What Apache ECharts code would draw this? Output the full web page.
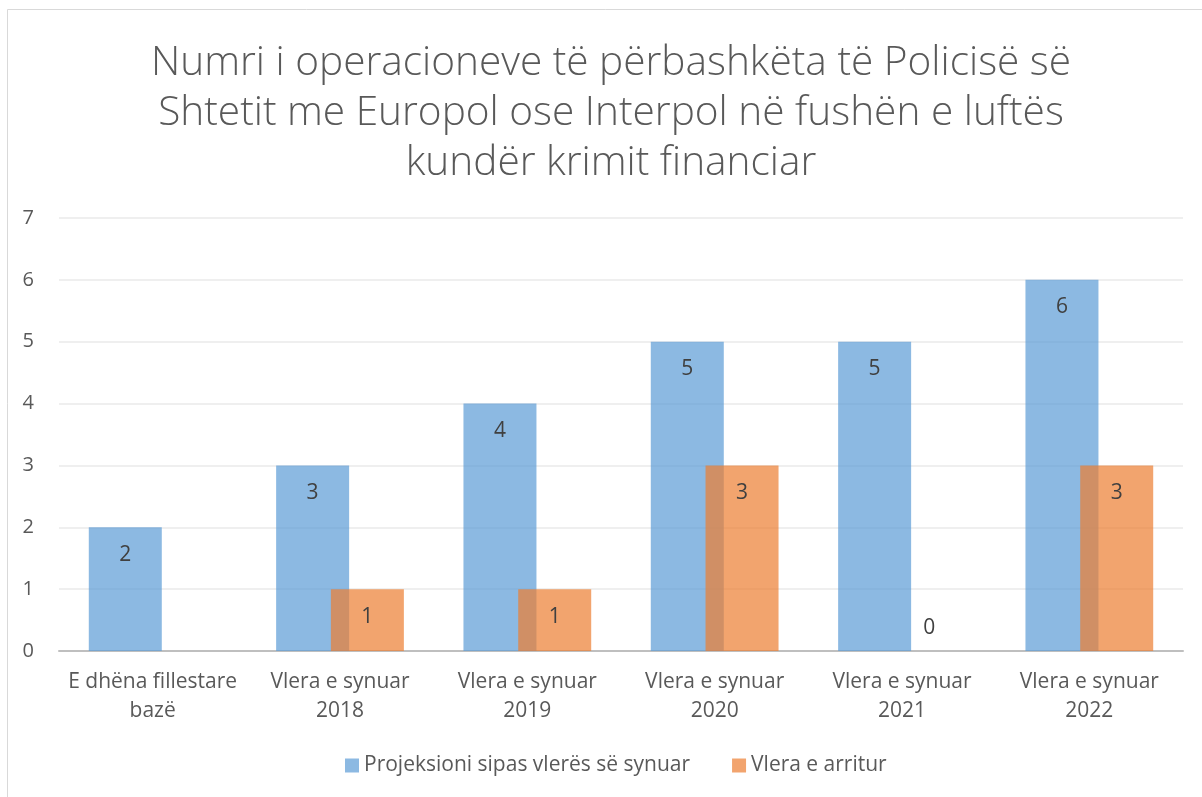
<!DOCTYPE html>
<html>
<head>
<meta charset="UTF-8">
<title>Operacionet e përbashkëta</title>
<script src="https://cdn.jsdelivr.net/npm/echarts@6/dist/echarts.min.js"></script>
<style>
  html, body { margin: 0; padding: 0; background: #fff; }
  #main { width: 1202px; height: 797px; }
</style>
</head>
<body>
<div id="main"></div>
<script type="text/javascript">
// te dhenat e grafikut
var categories = ['E dhëna fillestare\nbazë', 'Vlera e synuar\n2018', 'Vlera e synuar\n2019',
                  'Vlera e synuar\n2020', 'Vlera e synuar\n2021', 'Vlera e synuar\n2022'];
var projeksioni = [2, 3, 4, 5, 5, 6];
var arritur = [null, 1, 1, 3, 0, 3];
var yTicks = [0, 1, 2, 3, 4, 5, 6, 7];

var seriesNames = ['Projeksioni sipas vlerës së synuar', 'Vlera e arritur'];
var titleText = 'Numri i operacioneve të përbashkëta të Policisë së\nShtetit me Europol ose Interpol në fushën e luftës\nkundër krimit financiar';

var font = 'Open Sans';

// vlera zero shfaqet mbi bosht
function withLabels(arr) {
    return arr.map(function (v) {
        if (v === 0) {
            return { value: v, label: { position: 'top', distance: 12 } };
        }
        return v;
    });
}

var myChart = echarts.init(document.getElementById('main'));

myChart.setOption({
    backgroundColor: '#ffffff',
    animation: false,
    textStyle: { fontFamily: font },
    graphic: [{
        type: 'rect',
        shape: { x: 7.5, y: 9.5, width: 1300, height: 900 },
        style: { fill: 'none', stroke: '#d9d9d9', lineWidth: 1 },
        silent: true
    }],
    title: {
        text: titleText,
        left: 606,
        textAlign: 'center',
        top: 33,
        textStyle: {
            color: '#595959',
            fontFamily: font,
            fontWeight: 300,
            fontSize: 40.6,
            lineHeight: 50
        }
    },
    legend: {
        bottom: 16,
        left: 340,
        itemWidth: 14,
        itemHeight: 14,
        itemGap: 42,
        icon: 'rect',
        textStyle: { color: '#595959', fontSize: 21, fontFamily: font },
        data: seriesNames
    },
    grid: {
        left: 59,
        right: 19,
        top: 218,
        bottom: 146,
        containLabel: false
    },
    xAxis: {
        type: 'category',
        data: categories,
        axisLine: { lineStyle: { color: '#bfbfbf', width: 2 } },
        axisTick: { show: false },
        axisLabel: {
            color: '#595959',
            fontSize: 21,
            lineHeight: 29,
            margin: 17,
            interval: 0
        }
    },
    yAxis: {
        type: 'value',
        min: yTicks[0],
        max: yTicks[yTicks.length - 1],
        interval: 1,
        axisLine: { show: false },
        axisTick: { show: false },
        splitLine: { lineStyle: { color: '#efefef', width: 2 } },
        axisLabel: { color: '#595959', fontSize: 20, margin: 25 }
    },
    series: [
        {
            name: seriesNames[0],
            type: 'bar',
            data: withLabels(projeksioni),
            barWidth: 73,
            barGap: '-25%',
            itemStyle: { color: 'rgba(91,155,213,0.7)' },
            label: {
                show: true,
                position: 'insideTop',
                distance: 17,
                color: '#404040',
                fontSize: 21
            }
        },
        {
            name: seriesNames[1],
            type: 'bar',
            data: withLabels(arritur),
            barWidth: 73,
            barGap: '-25%',
            itemStyle: { color: 'rgba(237,125,49,0.7)' },
            label: {
                show: true,
                position: 'insideTop',
                distance: 17,
                color: '#404040',
                fontSize: 21
            }
        }
    ]
});
</script>
</body>
</html>
